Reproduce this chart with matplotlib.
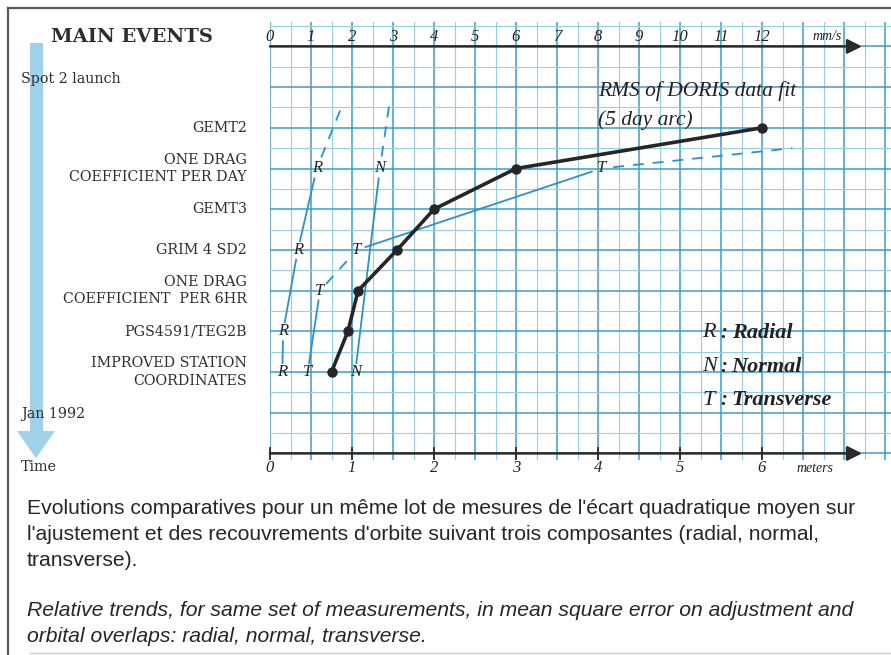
import numpy as np
import matplotlib
matplotlib.use("Agg")
import matplotlib.pyplot as plt
import matplotlib.transforms as mtransforms
from matplotlib.patches import Polygon, Rectangle
from matplotlib.lines import Line2D

# ---------------- data ----------------
events = ["IMPROVED STATION\nCOORDINATES", "PGS4591/TEG2B",
          "ONE DRAG\nCOEFFICIENT  PER 6HR", "GRIM 4 SD2", "GEMT3",
          "ONE DRAG\nCOEFFICIENT PER DAY", "GEMT2"]
event_pos = [0, 1, 2, 3, 4, 5, 6]
rms_mms = [1.5, 1.9, 2.15, 3.1, 4.0, 6.0, 12.0]          # RMS of DORIS data fit (mm/s)

radial_pos = [0, 1, 3, 5]
radial_m = [0.15, 0.16, 0.34, 0.57]
radial_styles = ["-", "-", "-"]
radial_trend = (0.89, 6.6)

normal_pos = [0, 5]
normal_m = [1.04, 1.34]
normal_styles = ["-"]
normal_trend = (1.46, 6.65)

transverse_pos = [0, 2, 3, 5]
transverse_m = [0.46, 0.61, 1.06, 4.04]
transverse_styles = ["-", "--", "-"]
transverse_trend = (6.37, 5.5)

meter_ticks = [0, 1, 2, 3, 4, 5, 6]
mms_ticks = [0, 1, 2, 3, 4, 5, 6, 7, 8, 9, 10, 11, 12]

legend_letters = ["R", "N", "T"]
legend_names = ["Radial", "Normal", "Transverse"]

caption_fr = ["Evolutions comparatives pour un même lot de mesures de l'écart quadratique moyen sur",
              "l'ajustement et des recouvrements d'orbite suivant trois composantes (radial, normal,",
              "transverse)."]
caption_en = ["Relative trends, for same set of measurements, in mean square error on adjustment and",
              "orbital overlaps: radial, normal, transverse."]

# ---------------- layout ----------------
W, H = 891, 655
fig = plt.figure(figsize=(W / 100, H / 100), dpi=100)
fig.patch.set_facecolor("white")

def fx(px):
    return px / W

def fy(py):
    return 1 - py / H

x_left_px, x_right_px = 270, 891
y_top_px, y_bot_px = 22, 460
ax = fig.add_axes([fx(x_left_px), fy(y_bot_px), fx(x_right_px) - fx(x_left_px), fy(y_top_px) - fy(y_bot_px)])
ppm = 82.0   # px per meter
ppe = 40.7   # px per event step
xmax = (x_right_px - x_left_px) / ppm
ymax = (372 - y_top_px) / ppe
ymin = (372 - y_bot_px) / ppe
ax.set_xlim(0, xmax)
ax.set_ylim(ymin, ymax)
for s in ax.spines.values():
    s.set_visible(False)
ax.set_xticks([])
ax.set_yticks([])
ax.patch.set_alpha(0)

ax2 = ax.twiny()
ax2.set_xlim(0, 2 * xmax)
for s in ax2.spines.values():
    s.set_visible(False)
ax2.set_xticks([])
ax2.patch.set_alpha(0)

heavy = "#3c9cc6"
light = "#97d0e6"
# vertical grid every 0.25 m, heavier every 0.5 m
for k in range(0, int(xmax / 0.25) + 1):
    xv = k * 0.25
    is_h = (k % 2 == 0)
    ax.axvline(xv, color=heavy if is_h else light, lw=1.1 if is_h else 0.8, zorder=0)
# horizontal grid every 0.5, heavier at integers
yv = np.ceil(ymin * 2) / 2
while yv <= ymax:
    is_h = abs(yv - round(yv)) < 1e-6
    ax.axhline(yv, color=heavy if is_h else light, lw=1.1 if is_h else 0.8, zorder=0)
    yv += 0.5

axis_col = "#2a2a2a"
tip = 7.22
for yax in (8, -2):
    ax.annotate("", xy=(tip, yax), xytext=(0, yax),
                arrowprops=dict(arrowstyle="-|>", color=axis_col, lw=1.8,
                                mutation_scale=22, shrinkA=0, shrinkB=0),
                zorder=5, annotation_clip=False)
hand = dict(family="Liberation Serif", style="italic", color="#222222")
for m in meter_ticks:
    ax.plot([m, m], [-2.13, -1.87], color=axis_col, lw=1.3, zorder=5, clip_on=False)
    ax.text(m, -2.36, str(m), ha="center", va="center", fontsize=12, clip_on=False, **hand)
ax.text(6.65, -2.38, "meters", ha="center", va="center", fontsize=10, clip_on=False, **hand)
for v in mms_ticks:
    ax2.text(v, 8.24, str(v), ha="center", va="center", fontsize=12, **hand)
ax2.text(13.6, 8.24, "mm/s", ha="center", va="center", fontsize=10, **hand)

# ---------------- series ----------------
blue = "#2b92c8"

def gap_segment(a, p0, p1, g0, g1, ls):
    d0 = a.transData.transform(p0)
    d1 = a.transData.transform(p1)
    v = d1 - d0
    L = np.hypot(*v)
    u = v / L
    s = d0 + u * g0
    e = d1 - u * g1
    pts = a.transData.inverted().transform(np.array([s, e]))
    if ls == "--":
        a.plot(pts[:, 0], pts[:, 1], color=blue, lw=1.3, dashes=(6, 5), zorder=3)
    else:
        a.plot(pts[:, 0], pts[:, 1], color=blue, lw=1.3, zorder=3)

def component(letter, pos, vals, styles, trend):
    for i in range(len(pos) - 1):
        gap_segment(ax, (vals[i], pos[i]), (vals[i + 1], pos[i + 1]), 9, 10, styles[i])
    gap_segment(ax, (vals[-1], pos[-1]), trend, 12, 0, "--")
    for v, p in zip(vals, pos):
        ax.text(v, p, letter, ha="center", va="center", fontsize=12, zorder=4, **hand)

component("R", radial_pos, radial_m, radial_styles, radial_trend)
component("N", normal_pos, normal_m, normal_styles, normal_trend)
component("T", transverse_pos, transverse_m, transverse_styles, transverse_trend)

ax2.plot(rms_mms, event_pos, color="#262626", lw=2.6, marker="o", ms=6.5, zorder=6)
ax2.text(8.0, 6.9, "RMS of DORIS data fit", ha="left", va="center", fontsize=15.5, **hand)
ax2.text(8.0, 6.2, "(5 day arc)", ha="left", va="center", fontsize=15.5, **hand)

for i, (l, n) in enumerate(zip(legend_letters, legend_names)):
    yy = 0.96 - i * 0.83
    ax.text(5.27, yy, l, ha="left", va="center", fontsize=16, **hand)
    ax.text(5.53, yy, ":", ha="center", va="center", fontsize=15, weight="bold", **hand)
    ax.text(5.63, yy, n, ha="left", va="center", fontsize=16, weight="bold",
            family="Liberation Serif", style="italic", color="#222222")

# ---------------- left panel ----------------
lblue = "#9fd2e8"
fig.patches.append(Rectangle((fx(30), fy(432)), fx(43) - fx(30), fy(43) - fy(432),
                             transform=fig.transFigure, facecolor=lblue, edgecolor="none", zorder=-1))
fig.patches.append(Polygon([(fx(17), fy(431)), (fx(55), fy(431)), (fx(36), fy(458))],
                           closed=True, transform=fig.transFigure, facecolor=lblue,
                           edgecolor="none", zorder=-1))

serif = dict(family="DejaVu Serif", color="#2e2e2e")
fig.text(fx(132), fy(37), "MAIN EVENTS", ha="center", va="center", fontsize=14,
         weight="bold", zorder=3, **serif)
blend = mtransforms.blended_transform_factory(fig.transFigure, ax.transData)
for p, lab in zip(event_pos, events):
    ax.text(fx(247), p, lab, transform=blend, ha="right", va="center", fontsize=10.3,
            linespacing=1.3, clip_on=False, **serif)
ax.text(fx(21), (372 - 79) / ppe, "Spot 2 launch", transform=blend, ha="left", va="center",
        fontsize=10.3, clip_on=False, zorder=3, **serif)
ax.text(fx(21), (372 - 414) / ppe, "Jan 1992", transform=blend, ha="left", va="center",
        fontsize=10.3, clip_on=False, zorder=3, **serif)
fig.text(fx(21), fy(467), "Time", ha="left", va="center", fontsize=10.3, **serif)

# ---------------- caption ----------------
for i, line in enumerate(caption_fr):
    fig.text(fx(27), fy(508 + 26 * i), line, ha="left", va="center", fontsize=15.2,
             family="Liberation Sans", color="#262626")
for i, line in enumerate(caption_en):
    fig.text(fx(27), fy(611 + 25 * i), line, ha="left", va="center", fontsize=15.2,
             family="Liberation Sans", style="italic", color="#262626")

# ---------------- frame ----------------
fig.add_artist(Line2D([fx(8), fx(8)], [fy(8), fy(655)], transform=fig.transFigure,
                      color="#5a5a5a", lw=1.6))
fig.add_artist(Line2D([fx(8), fx(891)], [fy(8), fy(8)], transform=fig.transFigure,
                      color="#5a5a5a", lw=1.6))
fig.add_artist(Line2D([fx(30), fx(891)], [fy(653), fy(653)], transform=fig.transFigure,
                      color="#cfcfcf", lw=1.0))

fig.savefig("out.png", dpi=100)
